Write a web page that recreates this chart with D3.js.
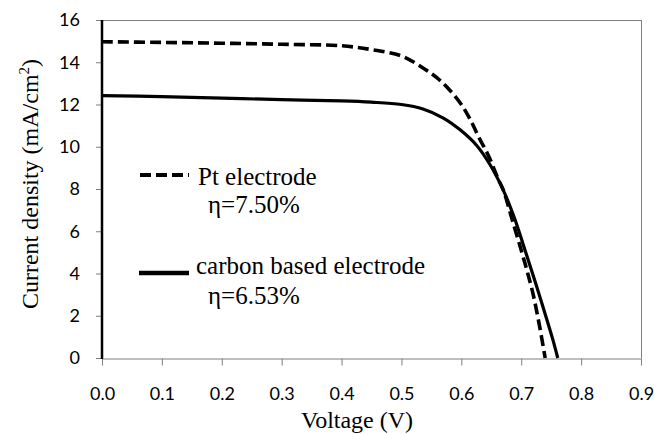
<!DOCTYPE html>
<html>
<head>
<meta charset="utf-8">
<script src="https://cdn.jsdelivr.net/npm/d3@7"></script>
<style>
html,body{margin:0;padding:0;background:#fff;}
svg{display:block;}
.serif{font-family:"Liberation Serif","Times New Roman","DejaVu Serif",serif;}
.sans{font-family:Lato,"Open Sans",sans-serif;}
</style>
</head>
<body>
<svg id="chart" width="654" height="434"></svg>
<script>
// Data
const ptVoltage = [0, 0.1, 0.2, 0.3, 0.4, 0.45, 0.5, 0.536, 0.56, 0.58, 0.6, 0.615, 0.63, 0.645, 0.662, 0.67, 0.685, 0.70, 0.71, 0.72, 0.73, 0.74];
const ptCurrent = [14.97, 14.94, 14.9, 14.85, 14.78, 14.6, 14.3, 13.73, 13.25, 12.7, 12.0, 11.28, 10.4, 9.6, 8.44, 7.96, 6.54, 5.1, 4.1, 3.0, 1.6, 0.0];
const cVoltage = [0, 0.1, 0.2, 0.3, 0.4, 0.45, 0.5, 0.536, 0.57, 0.598, 0.626, 0.648, 0.67, 0.689, 0.703, 0.717, 0.73, 0.743, 0.752, 0.761];
const cCurrent = [12.42, 12.37, 12.3, 12.23, 12.17, 12.11, 12.0, 11.79, 11.36, 10.8, 10.05, 9.15, 7.95, 6.6, 5.4, 4.17, 3.0, 1.8, 0.95, 0.0];
const xTicks = [0, 0.1, 0.2, 0.3, 0.4, 0.5, 0.6, 0.7, 0.8, 0.9];
const yTicks = [0, 2, 4, 6, 8, 10, 12, 14, 16];
const legendLabels = ["Pt electrode", "η=7.50%", "carbon based electrode", "η=6.53%"];

const svg = d3.select("#chart");
const L = 102, R = 641, T = 20, B = 358;
const x = d3.scaleLinear().domain([0, 0.9]).range([L, R]);
const y = d3.scaleLinear().domain([0, 16]).range([B, T]);

// Frame (top & right)
svg.append("line").attr("x1", L).attr("x2", R).attr("y1", T + 0.5).attr("y2", T + 0.5).attr("stroke", "#7f7f7f").attr("stroke-width", 1);
svg.append("line").attr("x1", R + 0.5).attr("x2", R + 0.5).attr("y1", T).attr("y2", B).attr("stroke", "#7f7f7f").attr("stroke-width", 1);

// X axis
const xAxis = svg.append("g").attr("transform", `translate(0,${B + 0.5})`)
  .call(d3.axisBottom(x).tickValues(xTicks).tickFormat(d3.format(".1f")).tickSizeOuter(0).tickSizeInner(7).tickPadding(22));
xAxis.attr("font-family", null);
xAxis.select(".domain").attr("stroke", "#7f7f7f");
xAxis.selectAll(".tick line").attr("stroke", "#7f7f7f");
xAxis.selectAll("text").attr("class", "sans").attr("font-size", 18).attr("fill", "#000");

// Y axis
const yAxis = svg.append("g").attr("transform", `translate(${L - 6},0)`)
  .call(d3.axisLeft(y).tickValues(yTicks).tickSizeOuter(0).tickSizeInner(0).tickPadding(16));
yAxis.attr("font-family", null);
yAxis.select(".domain").remove();
yAxis.selectAll(".tick").append("line").attr("x1", 0).attr("x2", 6).attr("stroke", "#7f7f7f");
yAxis.selectAll("text").attr("class", "sans").attr("font-size", 18).attr("fill", "#000");
// thick left axis line
svg.append("line").attr("x1", L).attr("x2", L).attr("y1", T).attr("y2", B + 1).attr("stroke", "#000").attr("stroke-width", 2.5);

// Curves
const line = d3.line().x(d => x(d[0])).y(d => y(d[1])).curve(d3.curveCatmullRom.alpha(0.5));
const ptData = ptVoltage.map((v, i) => [v, ptCurrent[i]]);
const cData = cVoltage.map((v, i) => [v, cCurrent[i]]);
svg.append("path").attr("d", line(cData)).attr("fill", "none").attr("stroke", "#000").attr("stroke-width", 3.2);
svg.append("path").attr("d", line(ptData)).attr("fill", "none").attr("stroke", "#000").attr("stroke-width", 3.6).attr("stroke-dasharray", "11,5");

// Legend
svg.append("line").attr("x1", 140).attr("x2", 189).attr("y1", 175).attr("y2", 175).attr("stroke", "#000").attr("stroke-width", 3.8).attr("stroke-dasharray", "11,5");
svg.append("line").attr("x1", 139).attr("x2", 189).attr("y1", 273).attr("y2", 273).attr("stroke", "#000").attr("stroke-width", 4.7);
const legPos = [[198, 185], [208, 213], [196, 274], [208, 304]];
svg.selectAll("text.leg").data(legendLabels).enter().append("text").attr("class", "leg serif")
  .attr("x", (d, i) => legPos[i][0]).attr("y", (d, i) => legPos[i][1])
  .attr("font-size", 25).attr("fill", "#000").text(d => d);

// Axis titles
svg.append("text").attr("class", "serif").attr("x", 357).attr("y", 428).attr("text-anchor", "middle")
  .attr("font-size", 24).attr("fill", "#000").text("Voltage (V)");
const yt = svg.append("text").attr("class", "serif").attr("transform", "translate(38,184) rotate(-90)").attr("text-anchor", "middle")
  .attr("font-size", 24).attr("fill", "#000");
yt.append("tspan").text("Current density  (mA/cm");
yt.append("tspan").attr("font-size", 15).attr("dy", -9).text("2");
yt.append("tspan").attr("dy", 9).text(")");
</script>
</body>
</html>
